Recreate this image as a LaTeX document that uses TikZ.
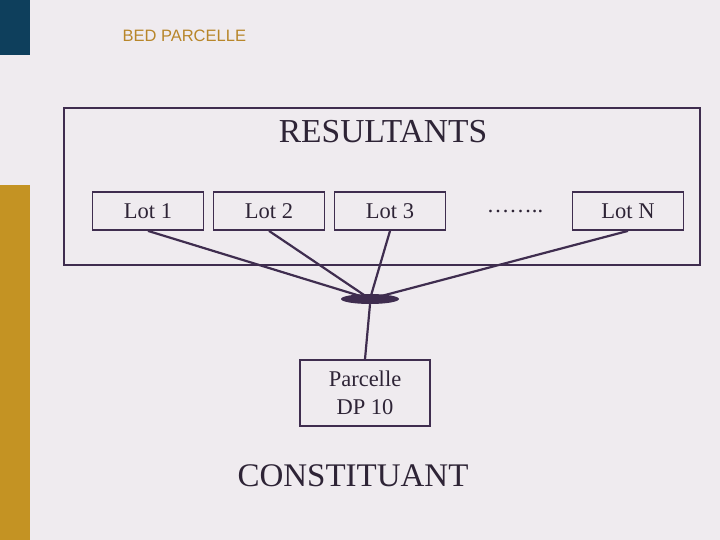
\documentclass[tikz,border=0pt]{standalone}
\usepackage{fontspec}
\setmainfont{Liberation Serif}
\setsansfont{Liberation Sans}
\usetikzlibrary{shapes.geometric}
\definecolor{bgcol}{HTML}{EFEBEF}
\definecolor{linecol}{HTML}{3F2D4F}
\definecolor{textcol}{HTML}{2E2436}
\definecolor{navy}{HTML}{0E3F5C}
\definecolor{gold}{HTML}{C49323}
\definecolor{titlecol}{HTML}{B8862A}
\tikzset{
  lotbox/.style={draw=linecol, line width=1.8pt, minimum width=111pt, minimum height=38pt, font=\fontsize{22.5}{24}\selectfont, text=textcol},
  link/.style={draw=linecol, line width=2.2pt}
}
\begin{document}
\begin{tikzpicture}[x=1pt,y=-1pt]
\fill[bgcol] (0,0) rectangle (720,540);
\useasboundingbox (0,0) rectangle (720,540);
\fill[navy] (0,0) rectangle (30,55);
\fill[gold] (0,185) rectangle (30,540);
\node[anchor=west, font=\sffamily\fontsize{16.5}{18}\selectfont, text=titlecol] (title) at (119,36) {BED PARCELLE};
\draw[linecol, line width=2.5pt] (64,108) rectangle (700,265);
\node[font=\fontsize{33.5}{36}\selectfont, text=textcol] (res) at (383,132) {RESULTANTS};
\node[lotbox] (lot1) at (148,211) {Lot 1};
\node[lotbox] (lot2) at (269,211) {Lot 2};
\node[lotbox] (lot3) at (390,211) {Lot 3};
\node[lotbox, draw=none] (dots) at (515,211) {\ldots\ldots..};
\node[lotbox] (lotn) at (628,211) {Lot N};
\coordinate (hub) at (370,299);
\path[link] (lot1.south) -- (hub);
\path[link] (lot2.south) -- (hub);
\path[link] (lot3.south) -- (hub);
\path[link] (lotn.south) -- (hub);
\node[ellipse, fill=linecol, minimum width=58pt, minimum height=10pt, inner sep=0pt] (knot) at (hub) {};
\node[lotbox, minimum width=130pt, minimum height=66pt, align=center, font=\fontsize{22.5}{28}\selectfont] (parc) at (365,393) {Parcelle\\DP 10};
\path[link] (knot.south) -- (parc.north);
\node[font=\fontsize{33}{35}\selectfont, text=textcol] (const) at (353,476) {CONSTITUANT};
\end{tikzpicture}
\end{document}
